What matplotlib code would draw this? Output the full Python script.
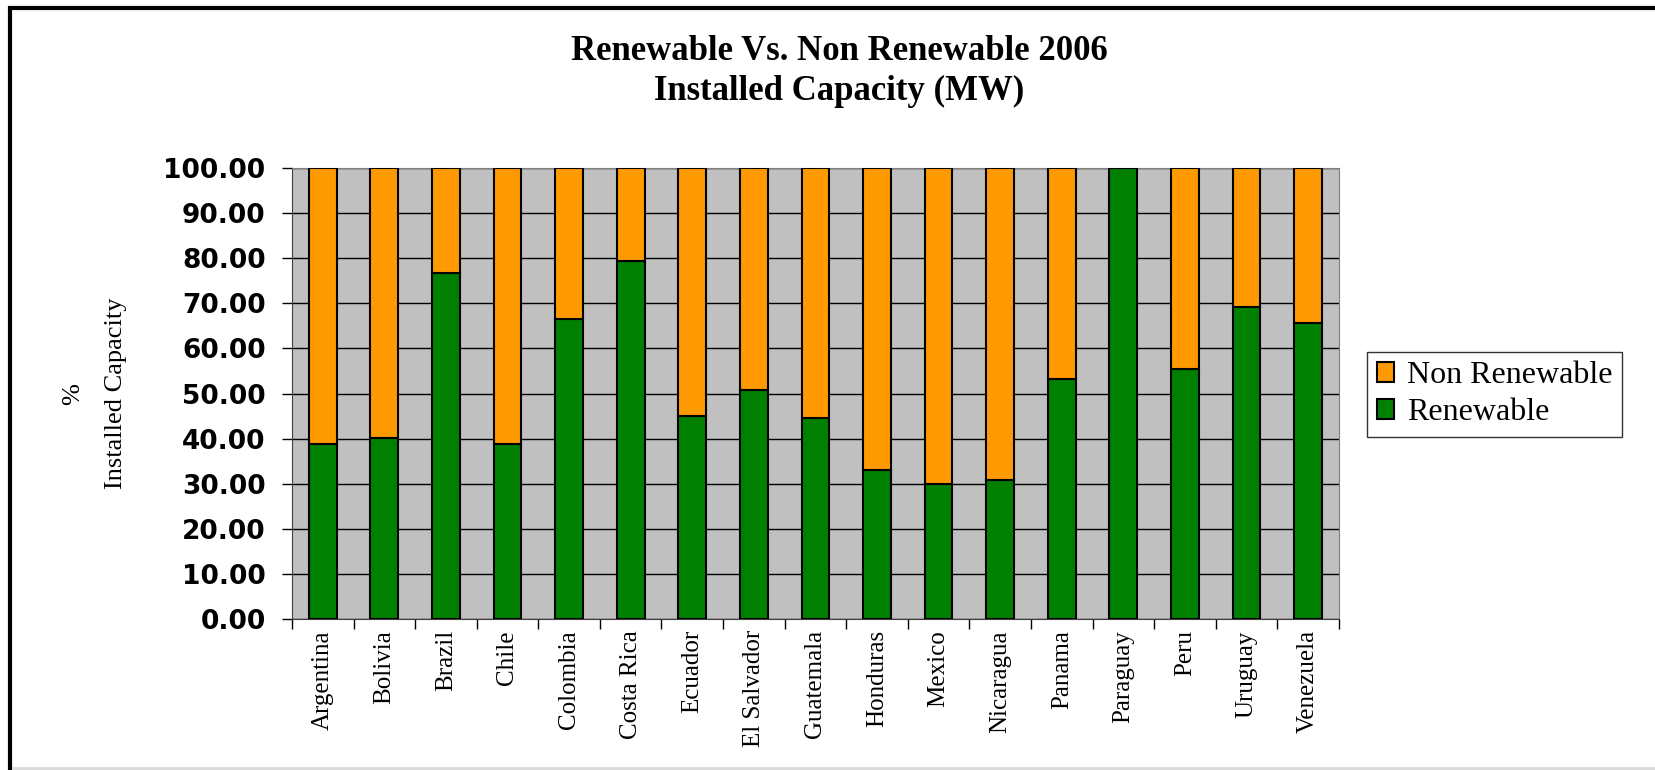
import matplotlib.pyplot as plt
from matplotlib.patches import Rectangle
from matplotlib.lines import Line2D

# datos
countries = ['Argentina', 'Bolivia', 'Brazil', 'Chile', 'Colombia', 'Costa Rica',
             'Ecuador', 'El Salvador', 'Guatemala', 'Honduras', 'Mexico',
             'Nicaragua', 'Panama', 'Paraguay', 'Peru', 'Uruguay', 'Venezuela']
renewable = [38.8, 40.1, 76.7, 38.8, 66.5, 79.3, 45.0, 50.7, 44.5, 33.1, 30.0,
             30.8, 53.3, 100.0, 55.5, 69.2, 65.6]
non_renewable = [100 - r for r in renewable]
yticks = [0, 10, 20, 30, 40, 50, 60, 70, 80, 90, 100]

fig = plt.figure(figsize=(16.55, 7.70), dpi=100)
ax = fig.add_axes([0.1764, 0.196, 0.6326, 0.5857])

x = list(range(len(countries)))
ax.bar(x, renewable, width=0.45, color='#008000', edgecolor='black', linewidth=1.5,
       label='Renewable', zorder=3)
ax.bar(x, non_renewable, width=0.45, bottom=renewable, color='#FF9900',
       edgecolor='black', linewidth=1.5, label='Non Renewable', zorder=3)

ax.set_facecolor('#C0C0C0')
ax.set_xlim(-0.5, len(countries) - 0.5)
ax.set_ylim(0, 100)
ax.set_yticks(yticks)
ax.set_yticklabels(['%.2f' % v for v in yticks], fontsize=19, fontweight='bold',
                   family='DejaVu Sans')
ax.yaxis.grid(True, color='black', linewidth=1, zorder=0)
ax.set_axisbelow(True)

ax.set_xticks(x)
ax.set_xticklabels(countries, rotation=90, fontsize=18, family='Liberation Serif')
ax.set_xticks([i - 0.5 for i in range(len(countries) + 1)], minor=True)
ax.tick_params(axis='x', which='major', length=0, pad=8)
ax.tick_params(axis='x', which='minor', length=7, width=1, direction='out')
ax.tick_params(axis='y', length=7, width=1, direction='out', pad=12)

for s in ['top', 'right']:
    ax.spines[s].set_color('#808080')
ax.spines['left'].set_color('#404040')
ax.spines['bottom'].set_color('#404040')

ax.set_ylabel('%\nInstalled Capacity', fontsize=19, family='Liberation Serif',
              linespacing=2.2)
ax.yaxis.set_label_coords(-0.158, 0.5)

fig.text(0.507, 0.933, 'Renewable Vs. Non Renewable 2006', ha='center', va='center',
         fontsize=25, fontweight='bold', family='Liberation Serif')
fig.text(0.507, 0.881, 'Installed Capacity (MW)', ha='center', va='center',
         fontsize=25, fontweight='bold', family='Liberation Serif')

h, l = ax.get_legend_handles_labels()
leg = fig.legend(h[::-1], l[::-1], loc='center left', bbox_to_anchor=(0.826, 0.488),
                 prop={'family': 'Liberation Serif', 'size': 23}, frameon=True,
                 fancybox=False, edgecolor='black', handlelength=0.55,
                 handleheight=0.55, handletextpad=0.4, borderpad=0.3,
                 labelspacing=0.25, borderaxespad=0)
leg.get_frame().set_linewidth(1)

# marco exterior
fig.patches.append(Rectangle((0.006, -0.1), 1.1, 1.09, transform=fig.transFigure,
                             fill=False, edgecolor='black', linewidth=3))
fig.lines.append(Line2D([0.008, 1], [0.003, 0.003], transform=fig.transFigure,
                        color='#D9D9D9', linewidth=2))

fig.savefig('out.png', dpi=100)
